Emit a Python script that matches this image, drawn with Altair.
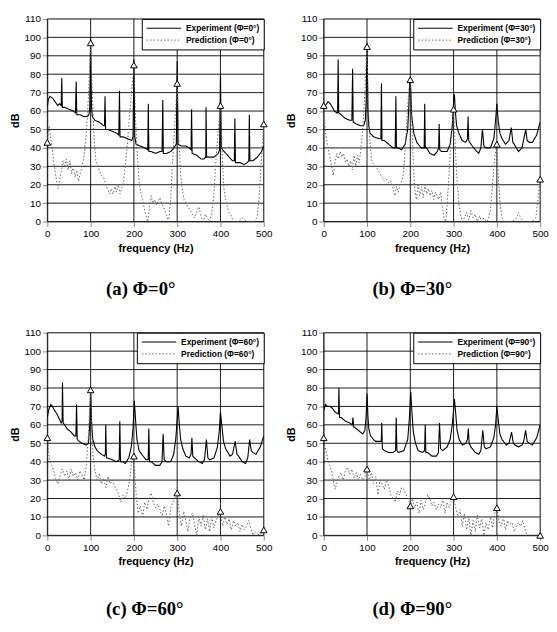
import altair as alt
import pandas as pd

FREQ_TICKS = [0, 100, 200, 300, 400, 500]
DB_TICKS = list(range(0, 111, 10))
MARK_F = [0, 100, 200, 300, 400, 500]

PHI = ["0", "30", "60", "90"]
LETTERS = ["(a)", "(b)", "(c)", "(d)"]

EXP_A = [(0,62),(2,66),(6,68),(12,67),(18,65),(24,63),(28,64),(32,63),(33.3,78),(34.6,62),(40,62),(50,61),(60,60),(65,59),(66.7,76),(68,58),(75,58),(85,57),(92,57),(96,58),(98,62),(100,100),(102,62),(104,57),(110,55),(120,54),(130,52),(132,52),(133.3,68),(134.6,50),(140,50),(150,49),(160,48),(165,47),(166.7,71),(168,46),(175,46),(185,45),(195,44),(198,46),(200,88),(202,46),(205,42),(215,41),(225,40),(232,39),(233.3,64),(234.6,38),(240,38),(250,37),(260,38),(265,38),(266.7,66),(268,37),(275,37),(285,38),(292,40),(298,42),(300,87),(302,42),(310,41),(320,41),(328,40),(332,39),(333.3,61),(334.6,37),(345,36),(355,34),(362,34),(366,35),(366.7,62),(368,35),(375,35),(385,35),(395,37),(398,39),(400,80),(402,40),(405,39),(420,35),(428,33),(432,33),(433.3,56),(434.6,32),(445,32),(455,31),(462,32),(465.5,33),(466.7,58),(468,33),(475,33),(485,35),(495,38),(500,41)]
PRED_A = [(0,43),(4,52),(8,45),(12,38),(16,30),(20,24),(24,18),(28,22),(32,27),(36,33),(40,30),(44,34),(48,28),(52,33),(56,26),(60,30),(64,24),(68,28),(72,22),(76,26),(80,30),(85,36),(90,48),(95,68),(100,97),(104,68),(108,45),(112,33),(116,30),(120,28),(125,25),(130,24),(135,20),(140,17),(144,15),(148,18),(152,15),(156,19),(160,16),(164,20),(168,15),(172,18),(176,22),(180,30),(185,42),(190,58),(195,72),(200,85),(204,55),(208,35),(212,22),(216,16),(220,12),(224,7),(228,3),(232,0),(236,8),(240,14),(244,10),(248,12),(252,9),(256,11),(260,13),(264,10),(268,8),(272,6),(276,3),(280,0),(285,12),(290,35),(295,55),(300,75),(304,45),(308,25),(312,17),(316,12),(320,10),(325,8),(330,6),(335,4),(340,2),(345,5),(350,8),(355,3),(360,0),(365,4),(370,2),(375,0),(380,5),(385,15),(390,35),(395,50),(400,63),(404,35),(408,18),(412,12),(416,8),(420,5),(425,3),(430,0),(440,0),(450,2),(460,0),(470,0),(480,0),(485,3),(490,15),(495,35),(500,53)]
MARK_A = [43, 97, 85, 75, 63, 53]

EXP_B = [(0,61),(4,63),(10,65),(15,64),(20,62),(25,60),(30,59),(32,59),(33.3,88),(34.6,59),(40,58),(50,56),(60,55),(65,55),(66.7,83),(68,54),(75,53),(85,52),(92,52),(96,55),(98,65),(100,97),(102,62),(104,52),(107,48),(115,46),(128,45),(132,45),(133.3,75),(134.6,44),(140,44),(150,42),(160,40),(165,40),(166.7,68),(168,40),(172,40),(180,39),(188,42),(194,50),(197,65),(199,78),(201,72),(203,58),(208,48),(215,43),(225,40),(232,40),(233.3,64),(234.6,40),(238,40),(245,37),(255,36),(262,38),(265.5,40),(266.7,53),(268,39),(272,38),(285,38),(292,42),(297,52),(300,65),(302,69),(304,60),(307,52),(312,48),(320,44),(328,43),(332,45),(333.5,57),(335,44),(340,42),(350,39),(358,37),(363,40),(366.7,50),(370,41),(375,40),(385,40),(393,45),(397,55),(400,64),(403,55),(407,48),(412,45),(420,42),(428,44),(433.3,51),(437,43),(440,42),(450,38),(458,40),(466.7,50),(470,44),(475,43),(482,43),(492,47),(500,54)]
PRED_B = [(0,63),(3,52),(6,45),(10,40),(14,35),(18,30),(22,25),(26,32),(30,37),(34,34),(38,38),(42,35),(46,37),(50,32),(54,34),(58,30),(62,33),(66,28),(70,36),(74,30),(78,36),(82,32),(86,40),(90,50),(94,65),(97,82),(100,95),(103,62),(107,42),(111,33),(115,31),(120,30),(125,28),(130,26),(135,24),(140,22),(145,23),(150,21),(155,22),(160,18),(164,14),(168,19),(172,16),(176,20),(180,22),(184,26),(188,38),(192,55),(196,70),(200,77),(204,50),(207,32),(210,18),(214,12),(218,20),(222,14),(226,19),(230,13),(234,20),(238,15),(242,18),(246,14),(250,17),(254,12),(258,16),(262,14),(266,12),(270,16),(274,8),(278,2),(282,0),(286,12),(290,28),(295,48),(300,61),(304,40),(308,22),(312,10),(316,4),(320,0),(325,2),(330,5),(335,1),(340,6),(345,2),(350,4),(355,0),(360,3),(365,0),(370,2),(375,0),(380,1),(385,6),(390,20),(395,35),(400,42),(404,22),(408,8),(412,2),(416,0),(425,0),(435,0),(445,2),(450,5),(455,2),(460,0),(470,0),(480,0),(490,2),(495,12),(500,23)]
MARK_B = [63, 95, 77, 61, 42, 23]

EXP_C = [(0,64),(3,68),(8,71),(12,70),(16,68),(22,66),(28,63),(32,61),(34,62),(35,83),(36.5,61),(40,60),(45,58),(55,56),(62,54),(66,54),(67.5,71),(69,52),(74,51),(80,50),(90,49),(95,50),(98,60),(100,80),(102,62),(105,52),(110,48),(115,46),(125,44),(132,43),(134,44),(135,60),(136.5,42),(140,42),(150,41),(160,40),(166,41),(167.5,62),(169,40),(174,40),(180,39),(188,42),(194,48),(198,58),(201,73),(204,62),(207,52),(212,46),(218,44),(228,41),(233,41),(234.5,58),(236,40),(240,40),(250,38),(260,38),(265,40),(267.5,55),(270,41),(275,40),(285,40),(292,44),(297,53),(302,70),(305,60),(308,52),(313,47),(320,43),(328,42),(332,44),(334,53),(336,43),(340,42),(350,40),(358,39),(363,41),(367.5,52),(371,42),(375,41),(385,42),(393,48),(397,56),(400,67),(403,60),(407,51),(412,47),(422,43),(428,44),(434,51),(438,44),(442,43),(450,40),(458,39),(463,42),(467.5,52),(471,46),(475,45),(482,44),(492,48),(500,54)]
PRED_C = [(0,53),(3,45),(6,40),(10,38),(15,35),(20,30),(25,28),(30,33),(35,36),(40,32),(45,35),(50,30),(55,36),(60,32),(65,34),(70,30),(75,35),(80,33),(85,30),(90,38),(95,55),(100,79),(103,55),(106,42),(110,35),(115,30),(120,33),(125,28),(130,31),(135,26),(140,32),(145,28),(150,30),(155,27),(160,25),(165,22),(170,18),(175,22),(180,20),(185,24),(190,30),(195,40),(200,43),(203,30),(206,20),(210,12),(215,16),(220,10),(225,18),(230,14),(235,20),(240,23),(245,18),(250,15),(255,17),(260,14),(265,10),(270,16),(275,12),(280,5),(285,15),(290,18),(295,20),(300,23),(305,12),(310,5),(315,13),(320,8),(325,2),(330,10),(335,12),(340,6),(345,0),(350,10),(355,5),(360,11),(365,3),(370,9),(375,2),(380,10),(385,4),(390,8),(395,11),(400,13),(405,5),(410,10),(415,6),(420,9),(425,3),(430,8),(435,5),(440,7),(445,2),(450,6),(455,3),(460,5),(465,8),(470,4),(475,0),(480,2),(490,0),(500,3)]
MARK_C = [53, 79, 43, 23, 13, 3]

EXP_D = [(0,68),(4,71),(8,70),(14,70),(20,69),(26,67),(32,66),(34,66),(35,80),(36.5,64),(40,64),(50,62),(60,61),(66,60),(67.5,64),(69,59),(75,58),(80,57),(90,55),(95,57),(98,65),(100,77),(102,65),(104,58),(108,54),(115,52),(120,51),(130,51),(133,51),(134,61),(135.5,47),(140,46),(150,45),(160,45),(166,46),(167.5,64),(169,46),(172,45),(185,46),(194,52),(198,64),(201,78),(204,66),(207,56),(212,50),(218,46),(228,45),(233,46),(234.5,60),(236,45),(240,45),(250,43),(260,43),(265,45),(267.5,61),(270,47),(275,46),(285,48),(292,52),(297,60),(302,74),(305,66),(308,57),(313,52),(320,49),(328,50),(332,52),(334,58),(336,50),(340,48),(350,45),(358,44),(363,46),(367.5,57),(371,48),(375,47),(385,48),(393,53),(397,60),(400,70),(403,63),(407,55),(412,52),(422,49),(428,50),(434,56),(438,50),(442,49),(450,48),(458,49),(462,51),(466.5,57),(470,51),(475,50),(482,49),(492,53),(500,60)]
PRED_D = [(0,53),(3,48),(7,44),(10,40),(14,38),(18,35),(22,30),(26,25),(30,28),(35,32),(40,34),(45,30),(50,35),(55,37),(60,33),(65,36),(70,31),(75,34),(80,30),(85,33),(90,30),(95,32),(100,36),(105,30),(110,34),(115,28),(120,32),(125,22),(130,30),(135,28),(140,25),(145,30),(150,27),(155,22),(160,20),(165,18),(170,24),(175,22),(180,26),(185,25),(190,22),(195,20),(200,16),(205,20),(210,15),(215,18),(220,12),(225,19),(230,14),(235,18),(240,22),(245,20),(250,16),(255,18),(260,14),(265,17),(270,15),(275,20),(280,12),(285,18),(290,15),(295,19),(300,21),(305,15),(310,10),(315,14),(320,5),(325,12),(330,3),(335,10),(340,0),(345,8),(350,2),(355,11),(360,4),(365,9),(370,0),(375,7),(380,3),(385,10),(390,4),(395,12),(400,15),(405,8),(410,5),(415,10),(420,3),(425,8),(430,6),(435,7),(440,2),(445,5),(450,7),(455,5),(460,8),(465,3),(470,0),(480,0),(490,0),(500,0)]
MARK_D = [53, 36, 16, 21, 15, 0]

TITLE_DX = [-15, -20, -11, -20]
TITLE_OFFSET = [28, 28, 34, 34]
WIDTHS = [220, 220, 220, 220]
H = 206

XSCALE = alt.Scale(domain=[0, 500], nice=False)
YSCALE = alt.Scale(domain=[0, 110], nice=False)


def panel(exp, pred, marks, phi, letter, dx, w, toff):
    exp_label = f"Experiment (Φ={phi}°)"
    pred_label = f"Prediction (Φ={phi}°)"
    d_exp = pd.DataFrame(exp, columns=["f", "db"])
    d_exp["series"] = exp_label
    d_pred = pd.DataFrame(pred, columns=["f", "db"])
    d_pred["series"] = pred_label
    lines_df = pd.concat([d_exp, d_pred], ignore_index=True)
    marks_df = pd.DataFrame({"f": MARK_F, "db": marks})

    xaxis = alt.Axis(values=FREQ_TICKS, title="frequency (Hz)", grid=False, labelFlush=False)
    yaxis = alt.Axis(values=DB_TICKS, title="dB", grid=False, labelFlush=False)

    vgrid = alt.Chart(pd.DataFrame({"f": FREQ_TICKS})).mark_rule(
        color="black", strokeWidth=0.9).encode(x=alt.X("f:Q", scale=XSCALE, axis=xaxis))
    hgrid = alt.Chart(pd.DataFrame({"db": DB_TICKS})).mark_rule(
        color="black", strokeWidth=0.9).encode(y=alt.Y("db:Q", scale=YSCALE, axis=yaxis))

    x = alt.X("f:Q", scale=XSCALE, axis=xaxis)
    y = alt.Y("db:Q", scale=YSCALE, axis=yaxis)

    dom = [exp_label, pred_label]
    leg = alt.Legend(title=None, orient="top-right", offset=0, padding=4,
                     strokeColor="black", fillColor="white",
                     labelFontSize=8.5, labelFontWeight="bold", labelColor="black",
                     labelFont="Liberation Sans", symbolType="stroke",
                     symbolSize=1225, symbolStrokeWidth=1.1, rowPadding=1,
                     clipHeight=11, cornerRadius=0)
    lines = alt.Chart(lines_df).mark_line(clip=True).encode(
        x=x, y=y,
        color=alt.Color("series:N", scale=alt.Scale(domain=dom, range=["black", "#666666"]), legend=leg),
        strokeDash=alt.StrokeDash("series:N", scale=alt.Scale(domain=dom, range=[[1, 0], [1.5, 2]]), legend=leg),
        strokeWidth=alt.StrokeWidth("series:N", scale=alt.Scale(domain=dom, range=[1.1, 1.0]), legend=None),
    )
    pts = alt.Chart(marks_df).mark_point(shape="triangle-up", filled=True, fill="white",
                                          stroke="black", strokeWidth=1, size=45,
                                          opacity=1).encode(x=x, y=y)
    return alt.layer(vgrid, hgrid, lines, pts).properties(
        width=w, height=H,
        title=alt.TitleParams(f"{letter} Φ={phi}°", orient="bottom", offset=toff, dx=dx,
                              font="Liberation Serif", fontSize=19, fontWeight="bold",
                              color="black", anchor="middle"),
    )


series = [(EXP_A, PRED_A, MARK_A), (EXP_B, PRED_B, MARK_B), (EXP_C, PRED_C, MARK_C), (EXP_D, PRED_D, MARK_D)]
panels = [panel(e, p, m, PHI[i], LETTERS[i], TITLE_DX[i], WIDTHS[i], TITLE_OFFSET[i])
          for i, (e, p, m) in enumerate(series)]

res = dict(color="independent", strokeDash="independent", strokeWidth="independent",
           x="independent", y="independent")
row1 = alt.hconcat(panels[0], panels[1], spacing=12).resolve_scale(**res)
row2 = alt.hconcat(panels[2], panels[3], spacing=12).resolve_scale(**res)
chart = alt.vconcat(row1, row2, spacing=27).resolve_scale(**res).configure_view(
    stroke="black", strokeWidth=1
).configure_axis(
    domainColor="black", tickColor="black",
    labelFont="Liberation Sans", labelFontSize=8, labelFontWeight="bold", labelColor="black",
    titleFont="Liberation Sans", titleFontSize=9, titleFontWeight="bold", titleColor="black",
    tickSize=2, labelPadding=1, titlePadding=1,
).configure(background="white", padding=0)

chart.save("out.html", embed_options={"renderer": "svg", "actions": False})
